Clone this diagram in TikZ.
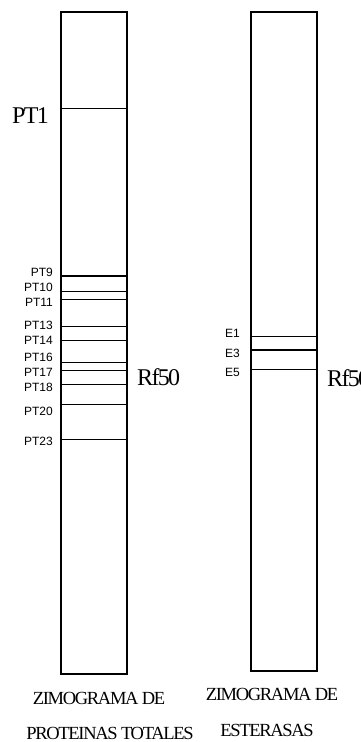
\documentclass[tikz,border=0pt]{standalone}
\usepackage{fontspec}
\setmainfont{Liberation Serif}[LetterSpace=-7]
\newfontfamily\labelfont{Liberation Sans}
\usetikzlibrary{calc}

\begin{document}
\begin{tikzpicture}[x=1pt,y=-1pt,
  lane/.style={line width=1.2pt},
  band/.style={line width=0.9pt},
  lbl/.style={font=\labelfont\fontsize{12}{12}\selectfont, anchor=east, inner sep=0},
  big/.style={font=\fontsize{24}{24}\selectfont, inner sep=0},
  title/.style={font=\fontsize{18.5}{18.5}\selectfont, anchor=base, inner sep=0}]
\useasboundingbox (0,0) rectangle (360,742);
\draw[lane] (61,12) rectangle (127,674);
\draw[lane] (251,12) rectangle (317,671);
% proteinas totales
\draw[band] (61,108) --++(66,0);
\node[big, anchor=east] (PT1) at (49,116) {PT1};
\foreach \y/\yl/\t/\w in {276/272/PT9/1.3, 291/287/PT10/0.9, 299/302/PT11/0.9,
  326/325/PT13/0.9, 340/340/PT14/0.9, 362/357/PT16/0.9, 370/372/PT17/0.9,
  384/387/PT18/0.9, 404/411/PT20/0.9, 439/441/PT23/0.9} {
 \draw[line width=\w pt] (61,\y) --++(66,0);
 \node[lbl] (\t) at (53,\yl) {\t};
}
\node[big, anchor=west] (rfa) at (137,377) {Rf50};
% esterasas
\foreach \y/\yl/\t/\w in {336/333/E1/0.9, 350/353/E3/1.4, 369/372/E5/0.9} {
 \draw[line width=\w pt] (251,\y) --++(66,0);
 \node[lbl] (\t) at (240,\yl) {\t};
}
\node[big, anchor=west] (rfb) at (327,378) {Rf50};
% titulos
\node[title] (za) at (99,704) {ZIMOGRAMA DE};
\node[title] (pa) at (110,739) {PROTEINAS TOTALES};
\node[title] (zb) at (272,700) {ZIMOGRAMA DE};
\node[title] (eb) at (267,736) {ESTERASAS};
\end{tikzpicture}
\end{document}
